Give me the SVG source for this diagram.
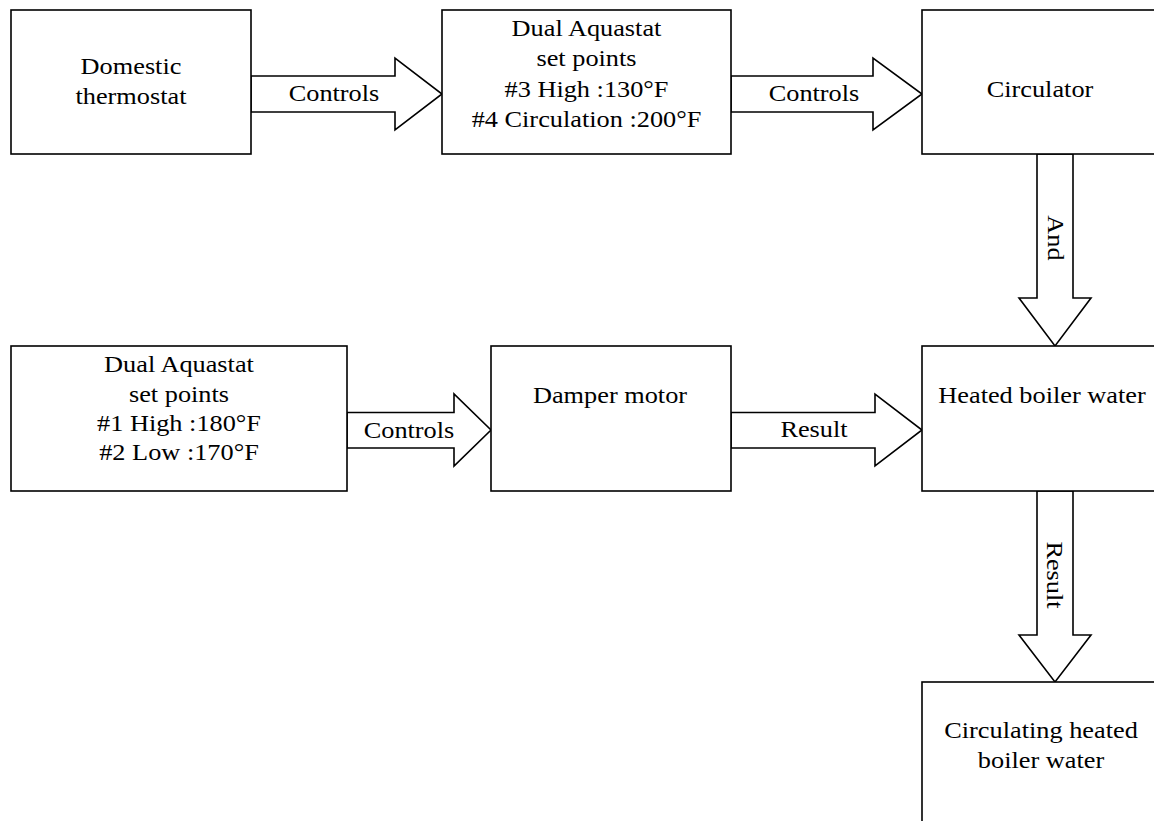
<svg xmlns="http://www.w3.org/2000/svg" width="1154" height="821" viewBox="0 0 1154 821">
<style>
.box{fill:#fff;stroke:#000;stroke-width:1.6}
.arr{fill:#fff;stroke:#000;stroke-width:1.6;stroke-linejoin:miter}
.t{font-family:"Liberation Serif","Times New Roman",serif;font-size:23.5px;fill:#000;text-anchor:middle}
</style>
<rect width="1154" height="821" fill="#fff"/>
<g id="connectors">
<polygon class="arr" points="251,76 395,76 395,58 442,94 395,130 395,112 251,112"/>
<text class="t" transform="matrix(1.12 0 0 1 334 101)">Controls</text>
<polygon class="arr" points="731,76 873,76 873,58 922,94 873,130 873,112 731,112"/>
<text class="t" transform="matrix(1.12 0 0 1 814 101)">Controls</text>
<polygon class="arr" points="1037,154 1037,298 1019,298 1055,346 1091,298 1073,298 1073,154"/>
<text class="t" transform="translate(1047.5 238) rotate(90) scale(1.12 1)">And</text>
<polygon class="arr" points="347,412.5 454,412.5 454,394 491,430 454,466 454,448 347,448"/>
<text class="t" transform="matrix(1.12 0 0 1 409 438)">Controls</text>
<polygon class="arr" points="731,412.5 875,412.5 875,394 922,430 875,466 875,448 731,448"/>
<text class="t" transform="matrix(1.12 0 0 1 814 437)">Result</text>
<polygon class="arr" points="1037,491 1037,635 1019,635 1055,682 1091,635 1073,635 1073,491"/>
<text class="t" transform="translate(1047 575) rotate(90) scale(1.12 1)">Result</text>
</g>
<g id="domestic-thermostat">
<rect class="box" x="11" y="10" width="240" height="144"/>
<text class="t" transform="matrix(1.12 0 0 1 131 74)">Domestic</text>
<text class="t" transform="matrix(1.12 0 0 1 131 104)">thermostat</text>
</g>
<g id="dual-aquastat-top">
<rect class="box" x="442" y="10" width="289" height="144"/>
<text class="t" transform="matrix(1.12 0 0 1 586.5 36)">Dual Aquastat</text>
<text class="t" transform="matrix(1.12 0 0 1 586.5 66)">set points</text>
<text class="t" transform="matrix(1.12 0 0 1 586.5 96.5)">#3 High :130°F</text>
<text class="t" transform="matrix(1.12 0 0 1 586.5 127)">#4 Circulation :200°F</text>
</g>
<g id="circulator">
<rect class="box" x="922" y="10" width="245" height="144"/>
<text class="t" transform="matrix(1.12 0 0 1 1040 97)">Circulator</text>
</g>
<g id="dual-aquastat-bottom">
<rect class="box" x="11" y="346" width="336" height="145"/>
<text class="t" transform="matrix(1.12 0 0 1 179 372)">Dual Aquastat</text>
<text class="t" transform="matrix(1.12 0 0 1 179 402)">set points</text>
<text class="t" transform="matrix(1.12 0 0 1 179 431)">#1 High :180°F</text>
<text class="t" transform="matrix(1.12 0 0 1 179 460)">#2 Low :170°F</text>
</g>
<g id="damper-motor">
<rect class="box" x="491" y="346" width="240" height="145"/>
<text class="t" transform="matrix(1.12 0 0 1 610 403)">Damper motor</text>
</g>
<g id="heated-boiler-water">
<rect class="box" x="922" y="346" width="245" height="145"/>
<text class="t" transform="matrix(1.12 0 0 1 1042 403)">Heated boiler water</text>
</g>
<g id="circulating-heated-boiler-water">
<rect class="box" x="922" y="682" width="245" height="160"/>
<text class="t" transform="matrix(1.12 0 0 1 1041 738)">Circulating heated</text>
<text class="t" transform="matrix(1.12 0 0 1 1041 768)">boiler water</text>
</g>
</svg>
